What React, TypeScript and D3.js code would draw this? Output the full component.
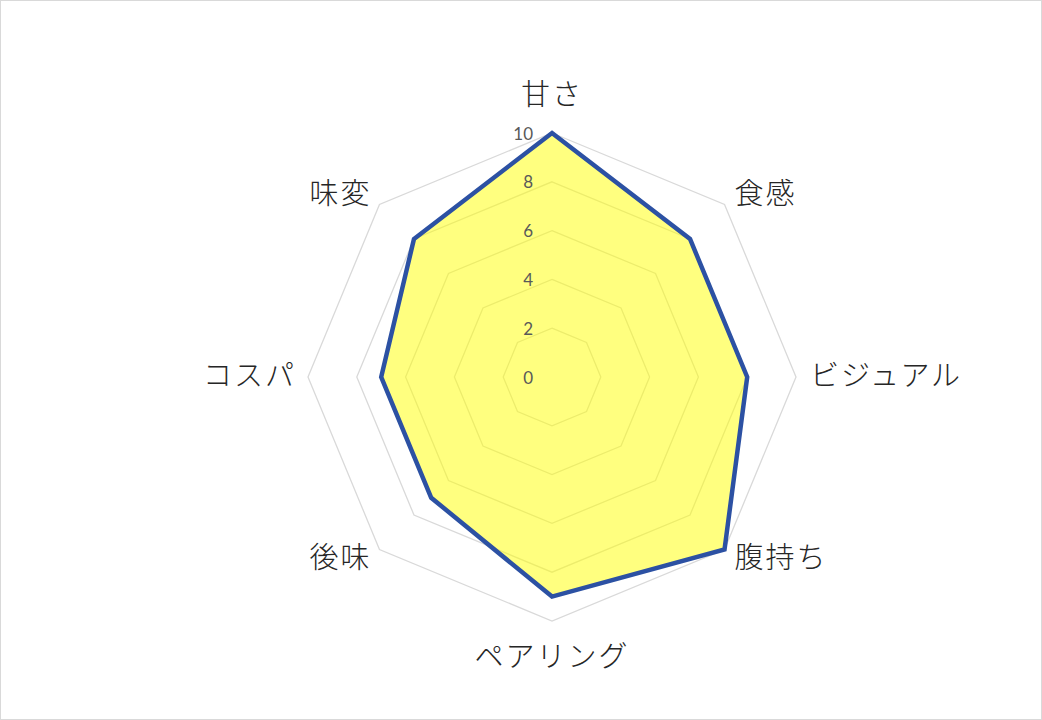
import * as d3 from "d3";
import { useEffect, useRef } from "react";
import * as React from "react";

// axis labels, clockwise from top
const categories = ["甘さ", "食感", "ビジュアル", "腹持ち", "ペアリング", "後味", "コスパ", "味変"];
const scores = [10, 8, 8, 10, 9, 7, 7, 8];
const ticks = [0, 2, 4, 6, 8, 10];

const W = 1042;
const H = 720;

const App: React.FC = () => {
  const ref = useRef<SVGSVGElement | null>(null);

  useEffect(() => {
    const cx = 552;
    const cy = 377;
    const R = 244;
    const n = categories.length;

    const svg = d3.select(ref.current);
    svg.selectAll("*").remove();

    // background + frame
    svg
      .append("rect")
      .attr("x", 0.5)
      .attr("y", 0.5)
      .attr("width", W - 1)
      .attr("height", H - 1)
      .attr("fill", "#fff")
      .attr("stroke", "#d9d9d9");

    const r = d3.scaleLinear().domain([0, 10]).range([0, R]);
    const angle = (i: number) => (i * 2 * Math.PI) / n;
    const pt = (i: number, v: number): [number, number] => [
      cx + r(v) * Math.sin(angle(i)),
      cy - r(v) * Math.cos(angle(i)),
    ];
    const closed = d3.line().curve(d3.curveLinearClosed);

    // grid rings
    svg
      .append("g")
      .selectAll("path")
      .data(ticks.filter((t) => t > 0))
      .enter()
      .append("path")
      .attr("d", (t) => closed(categories.map((_, i) => pt(i, t))))
      .attr("fill", "none")
      .attr("stroke", "#d9d9d9")
      .attr("stroke-width", 1.3);

    // series
    svg
      .append("path")
      .attr("d", closed(scores.map((v, i) => pt(i, v))))
      .attr("fill", "#ffff00")
      .attr("fill-opacity", 0.5)
      .attr("stroke", "#2c51a3")
      .attr("stroke-width", 4.5)
      .attr("stroke-linejoin", "miter");

    // tick labels
    svg
      .append("g")
      .selectAll("text")
      .data(ticks)
      .enter()
      .append("text")
      .attr("x", cx - 19)
      .attr("y", (t) => cy - r(t))
      .attr("text-anchor", "end")
      .attr("dominant-baseline", "central")
      .attr("font-family", "Lato, 'Open Sans', sans-serif")
      .attr("font-size", 17)
      .attr("fill", "#595959")
      .text((t) => t);

    // category labels
    svg
      .append("g")
      .selectAll("text")
      .data(categories)
      .enter()
      .append("text")
      .each(function (d, i) {
        const a = angle(i);
        const s = Math.sin(a);
        const c = Math.cos(a);
        const x = cx + (R + 14) * s;
        const y = cy - (R + 14) * c;
        const extra = Math.abs(c) > 0.9 ? -c * 23 : 0;
        d3.select(this)
          .attr("x", x + (s < -0.1 ? 2 : 0))
          .attr("y", y - 4 + extra)
          .attr("text-anchor", s > 0.1 ? "start" : s < -0.1 ? "end" : "middle");
      })
      .attr("dominant-baseline", "central")
      .attr("font-family", "'Noto Sans CJK JP', sans-serif")
      .attr("font-weight", 300)
      .attr("font-size", 29)
      .attr("letter-spacing", 2)
      .attr("fill", "#262626")
      .text((d) => d);
  });

  return (
    <div style={{ position: "absolute", left: 0, top: 0 }}>
      <svg ref={ref} width={W} height={H} />
    </div>
  );
};

export default App;
